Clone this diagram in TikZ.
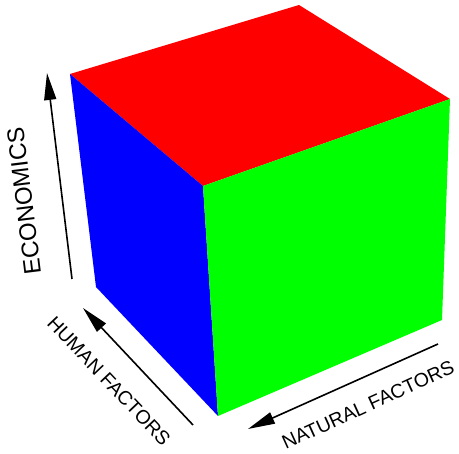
\documentclass[tikz,border=0pt]{standalone}
\usepackage{fontspec}
\setmainfont{Liberation Sans}
\usetikzlibrary{arrows.meta}
\definecolor{topred}{HTML}{FF0000}
\definecolor{sideblue}{HTML}{0000FF}
\definecolor{frontgreen}{HTML}{00FF00}

\begin{document}
\begin{tikzpicture}[x=1pt, y=1pt,
    axis/.style={-{Triangle[length=27pt, width=12pt]}, line width=1.6pt},
    axislabel/.style={inner sep=0pt, font=\fontsize{19.5}{22}\selectfont}]
  \useasboundingbox (0,0) rectangle (459,454);
  % cube corners
  \coordinate (backleft)  at (70,380);
  \coordinate (backtop)   at (299,449);
  \coordinate (backright) at (450,355);
  \coordinate (front)     at (203,268);
  \coordinate (lowleft)   at (96,167);
  \coordinate (lowfront)  at (218,38);
  \coordinate (lowright)  at (442,134);
  % faces
  \fill[topred] (backleft) -- (backtop) -- (backright) -- (front) -- cycle;
  \fill[sideblue] (backleft) -- (front) -- (lowfront) -- (lowleft) -- cycle;
  \fill[frontgreen] (front) -- (backright) -- (lowright) -- (lowfront) -- cycle;
  % axes
  \coordinate (econtail)  at (72,175);
  \coordinate (econhead)  at (47,381);
  \coordinate (humantail) at (193,29);
  \coordinate (humanhead) at (83,146);
  \coordinate (natutail)  at (438,110);
  \coordinate (natuhead)  at (248,25);
  \draw[axis] (econtail) -- (econhead);
  \draw[axis] (humantail) -- (humanhead);
  \draw[axis] (natutail) -- (natuhead);
  \node[axislabel, rotate=97, font=\fontsize{24}{27}\selectfont] (econ) at (24,253) {ECONOMICS};
  \node[axislabel, rotate=-46.5] (human) at (109,73) {HUMAN FACTORS};
  \node[axislabel, rotate=24.5] (natural) at (368,49) {NATURAL FACTORS};
\end{tikzpicture}
\end{document}
